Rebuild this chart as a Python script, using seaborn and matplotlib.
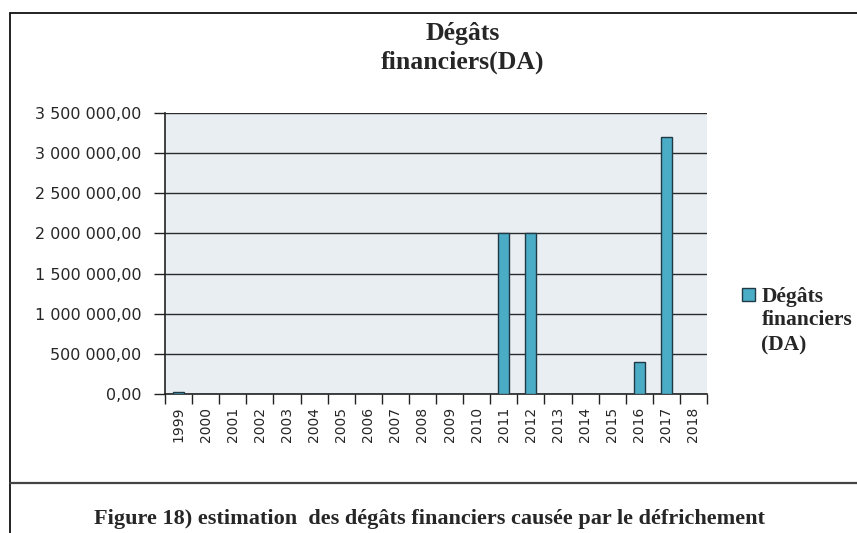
import numpy as np
import pandas as pd
import matplotlib
matplotlib.use("Agg")
import matplotlib.pyplot as plt
import seaborn as sns
from matplotlib.patches import Rectangle, Patch
from matplotlib.lines import Line2D
from matplotlib.ticker import FuncFormatter

# data
years = [str(y) for y in range(1999, 2019)]
degats = [25000, 0, 0, 0, 0, 0, 0, 0, 0, 0, 0, 0,
          2000000, 2000000, 0, 0, 0, 400000, 3200000, 0]

df = pd.DataFrame({"annee": years, "degats": degats})

sns.set_style("white")
plt.rcParams["font.family"] = ["DejaVu Sans"]

bar_color = "#4BACC6"
edge_color = "#1f3a44"
serif = "Liberation Serif"

fig = plt.figure(figsize=(8.57, 5.33), dpi=100)
ax = fig.add_axes([165 / 857, 1 - 394 / 533, 542 / 857, 281 / 533])

sns.barplot(data=df, x="annee", y="degats", color=bar_color, width=0.4,
            edgecolor=edge_color, linewidth=1.0, saturation=1, ax=ax, zorder=3)

ax.set_facecolor("#E8EEF2")
ax.set_ylim(0, 3500000)
ax.set_xlim(-0.5, len(years) - 0.5)
ax.set_yticks(np.arange(0, 3500001, 500000))
ax.yaxis.set_major_formatter(FuncFormatter(
    lambda v, p: f"{v:,.2f}".replace(",", " ").replace(".", ",")))
ax.grid(axis="y", color="#2b2b2b", linewidth=1.0, zorder=1)
ax.set_axisbelow(True)
ax.set_xlabel("")
ax.set_ylabel("")

# ticks between categories, like the spreadsheet original
ax.set_xticks(range(len(years)))
ax.set_xticklabels(years, rotation=90, fontsize=10)
ax.set_xticks(np.arange(-0.5, len(years), 1), minor=True)
ax.tick_params(axis="x", which="major", length=0, pad=9)
ax.tick_params(axis="x", which="minor", length=7, width=1, color="#222222",
               direction="out", bottom=True)
ax.tick_params(axis="y", length=8, width=1, color="#222222", direction="out",
               left=True, labelsize=11.5, pad=9)

for s in ["top", "right"]:
    ax.spines[s].set_visible(False)
for s in ["left", "bottom"]:
    ax.spines[s].set_color("#222222")
    ax.spines[s].set_linewidth(1.2)

fig.text(463 / 857, 1 - 48 / 533, "Dégâts\nfinanciers(DA)", ha="center",
         va="center", family=serif, fontweight="bold", fontsize=18.5,
         linespacing=1.3)

# legend: square beside the first line, the rest of the label below
handle = Patch(facecolor=bar_color, edgecolor=edge_color, linewidth=1.0)
leg = fig.legend([handle], ["Dégâts"], loc="center left",
                 bbox_to_anchor=(742 / 857, 1 - 297 / 533), frameon=False,
                 prop={"family": serif, "weight": "bold", "size": 15.5},
                 handlelength=0.6, handleheight=0.6, handletextpad=0.3,
                 borderpad=0, borderaxespad=0)
fig.canvas.draw()
bb = leg.get_texts()[0].get_window_extent()
fig.text(bb.x0 / fig.bbox.width, 1 - 310 / 533, "financiers\n(DA)",
         ha="left", va="top", family=serif, fontweight="bold", fontsize=15.5,
         linespacing=1.35)

# outer frame and caption separator
fig.add_artist(Rectangle((10 / 857, -0.01), 1.0, 1 - 13 / 533 + 0.01,
                         transform=fig.transFigure, fill=False,
                         edgecolor="#111111", linewidth=1.3))
fig.add_artist(Line2D([10 / 857, 1], [1 - 483 / 533, 1 - 483 / 533],
                      transform=fig.transFigure, color="#444444",
                      linewidth=1.6))

fig.text(430 / 857, 1 - 519 / 533,
         "Figure 18) estimation  des dégâts financiers causée par le défrichement",
         ha="center", va="center", family=serif, fontweight="bold",
         fontsize=16)

fig.savefig("out.png", dpi=100)
